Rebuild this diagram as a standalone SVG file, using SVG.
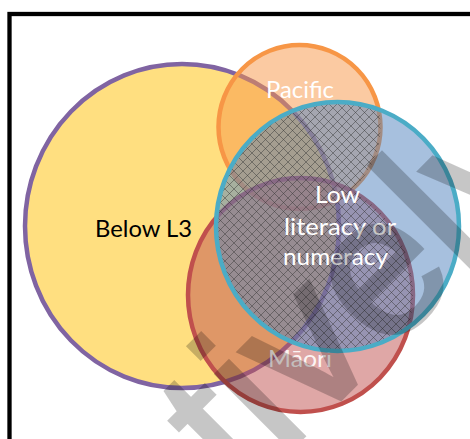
<svg xmlns="http://www.w3.org/2000/svg" width="470" height="439" viewBox="0 0 470 439">
<style>
.lbl{font-family:Lato,"Liberation Sans",sans-serif;font-size:24px}
.white{fill:#ffffff}
.dark{fill:#000000}
.node-fill{stroke-width:4.5}
</style>
<defs>
<pattern id="hatch" patternUnits="userSpaceOnUse" width="9" height="9">
<path d="M-1,-1L10,10M10,-1L-1,10" stroke="#333333" stroke-width="0.85" stroke-opacity="0.55" fill="none"/>
</pattern>
<clipPath id="clipLow"><ellipse cx="337.5" cy="226.5" rx="121.5" ry="124.5"/></clipPath>
<mask id="unionMask" maskUnits="userSpaceOnUse" x="0" y="0" width="470" height="439">
<rect x="0" y="0" width="470" height="439" fill="#000"/>
<ellipse cx="182" cy="226" rx="157" ry="162" fill="#fff"/>
<ellipse cx="299.5" cy="127" rx="81" ry="82" fill="#fff"/>
<ellipse cx="300.5" cy="295" rx="112.5" ry="117" fill="#fff"/>
</mask>
</defs>
<rect x="0" y="0" width="470" height="439" fill="#ffffff"/>
<rect x="9.5" y="14" width="520" height="500" fill="none" stroke="#000" stroke-width="4.3"/>
<g id="connectors"/>
<g id="below-l3">
<ellipse cx="182" cy="226" rx="157" ry="162" fill="#FFDF80" stroke="#8064A2" class="node-fill"/>
<text class="lbl dark" x="95" y="237" textLength="97" lengthAdjust="spacingAndGlyphs">Below L3</text>
</g>
<g id="pacific">
<ellipse cx="299.5" cy="127" rx="81" ry="82" fill="#F79646" fill-opacity="0.5" stroke="#F79646" class="node-fill"/>
<text class="lbl white" x="266" y="98" textLength="68" lengthAdjust="spacingAndGlyphs">Pacific</text>
</g>
<g id="maori">
<ellipse cx="300.5" cy="295" rx="112.5" ry="117" fill="#C0504D" fill-opacity="0.5" stroke="#C0504D" class="node-fill"/>
<text class="lbl white" x="268" y="367" textLength="64" lengthAdjust="spacingAndGlyphs" fill-opacity="0.9">Māori</text>
</g>
<g id="low-literacy">
<ellipse cx="337.5" cy="226.5" rx="121.5" ry="124.5" fill="#4F81BD" fill-opacity="0.5"/>
<g clip-path="url(#clipLow)"><rect x="0" y="0" width="470" height="439" fill="url(#hatch)" mask="url(#unionMask)"/></g>
<ellipse cx="337.5" cy="226.5" rx="121.5" ry="124.5" fill="none" stroke="#4BACC6" class="node-fill"/>
<text class="lbl white" x="315" y="203" textLength="45" lengthAdjust="spacingAndGlyphs">Low</text>
<text class="lbl white" x="284" y="235" textLength="112" lengthAdjust="spacingAndGlyphs">literacy or</text>
<text class="lbl white" x="283" y="265" textLength="105" lengthAdjust="spacingAndGlyphs">numeracy</text>
</g>
<g id="watermark" opacity="0.22">
<text x="242.5" y="497.5" transform="rotate(-45 242.5 497.5)" font-family="Liberation Sans, Arial, sans-serif" font-size="200" fill="#000" stroke="#000" stroke-width="4">tively</text>
</g>
</svg>
